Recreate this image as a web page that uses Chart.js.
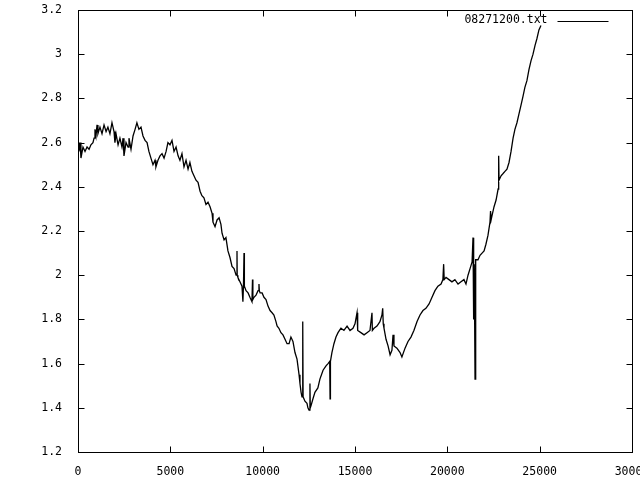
<!DOCTYPE html>
<html>
<head>
<meta charset="utf-8">
<script src="https://cdn.jsdelivr.net/npm/chart.js@4/dist/chart.umd.min.js"></script>
<style>
  html, body { margin: 0; padding: 0; background: #fff; }
  #wrap { width: 640px; height: 480px; }
</style>
</head>
<body>
<div id="wrap"><canvas id="chart" width="640" height="480"></canvas></div>
<script>
const seriesLabel = '08271200.txt';

const xs = [
  0, 50, 110, 160, 270, 380, 490, 600, 700, 810, 870, 920, 975, 1030, 1080,
  1190, 1300, 1410, 1520, 1620, 1730, 1840, 1950, 2000, 2060, 2170, 2270, 2380,
  2440, 2490, 2600, 2710, 2760, 2870, 2980, 3090, 3190, 3300, 3410, 3520, 3630,
  3740, 3840, 3950, 4060, 4170, 4220, 4330, 4440, 4550, 4660, 4770, 4870, 4980,
  5090, 5200, 5310, 5420, 5520, 5630, 5740, 5850, 5960, 6060, 6170, 6280, 6390,
  6500, 6610, 6710, 6820, 6930, 7040, 7150, 7260, 7310, 7420, 7530, 7640, 7740,
  7800, 7910, 8010, 8120, 8230, 8340, 8450, 8560, 8610, 8620, 8660, 8770, 8880,
  8930, 8960, 8990, 9010, 9100, 9210, 9310, 9420, 9450, 9470, 9530, 9640, 9750,
  9800, 9820, 9860, 9970, 10070, 10180, 10290, 10400, 10510, 10610, 10720, 10780,
  10880, 10990, 11100, 11210, 11320, 11430, 11530, 11640, 11750, 11860, 11970,
  12020, 12080, 12130, 12170, 12190, 12290, 12400, 12450, 12510, 12560, 12580,
  12620, 12720, 12830, 12990, 13100, 13270, 13430, 13540, 13630, 13650, 13670,
  13750, 13860, 13970, 14080, 14240, 14400, 14570, 14730, 14890, 15000, 15110,
  15130, 15160, 15320, 15490, 15650, 15810, 15920, 15940, 16030, 16190, 16350,
  16460, 16500, 16530, 16570, 16680, 16790, 16900, 17000, 17060, 17110, 17270,
  17440, 17540, 17710, 17870, 18030, 18190, 18360, 18520, 18680, 18840, 19010,
  19170, 19330, 19490, 19660, 19760, 19800, 19830, 19930, 20090, 20250, 20410,
  20580, 20740, 20900, 21010, 21120, 21230, 21340, 21390, 21410, 21440, 21460,
  21500, 21520, 21550, 21660, 21770, 21880, 21990, 22090, 22200, 22310, 22340,
  22370, 22420, 22530, 22640, 22750, 22780, 22800, 22910, 23020, 23120, 23230,
  23340, 23450, 23560, 23660, 23770, 23880, 23990, 24100, 24200, 24310, 24420,
  24530, 24640, 24750, 24850, 24960, 25070
];

const ys = [
  2.60, 2.56, 2.60, 2.53, 2.58, 2.56, 2.58, 2.57, 2.59, 2.60, 2.62, 2.66, 2.63, 2.68, 2.64,
  2.67, 2.64, 2.68, 2.65, 2.67, 2.64, 2.69, 2.65, 2.60, 2.64, 2.59, 2.62, 2.58,
  2.62, 2.54, 2.60, 2.58, 2.62, 2.57, 2.63, 2.66, 2.69, 2.66, 2.67, 2.63, 2.61,
  2.60, 2.56, 2.53, 2.50, 2.52, 2.49, 2.52, 2.54, 2.55, 2.53, 2.56, 2.60, 2.59,
  2.61, 2.56, 2.58, 2.54, 2.52, 2.55, 2.49, 2.52, 2.48, 2.51, 2.47, 2.45, 2.43,
  2.42, 2.38, 2.36, 2.35, 2.32, 2.33, 2.31, 2.28, 2.24, 2.22, 2.25, 2.26, 2.23,
  2.19, 2.16, 2.17, 2.11, 2.08, 2.04, 2.03, 2.00, 2.11, 2.00, 1.99, 1.97, 1.95,
  1.88, 1.95, 2.10, 1.95, 1.93, 1.92, 1.90, 1.88, 1.98, 1.89, 1.90, 1.91, 1.93,
  1.96, 1.93, 1.92, 1.92, 1.90, 1.89, 1.86, 1.84, 1.83, 1.82, 1.79, 1.77,
  1.76, 1.74, 1.73, 1.71, 1.69, 1.69, 1.72, 1.70, 1.65, 1.62, 1.55,
  1.51, 1.47, 1.45, 1.79, 1.45, 1.43, 1.42, 1.40, 1.39, 1.51, 1.40,
  1.41, 1.44, 1.47, 1.49, 1.53, 1.57, 1.59, 1.60, 1.61, 1.44, 1.61,
  1.65, 1.69, 1.72, 1.74, 1.76, 1.75, 1.77, 1.75, 1.76, 1.78, 1.83,
  1.76, 1.75, 1.74, 1.73, 1.74, 1.75, 1.83, 1.75, 1.76, 1.77, 1.79,
  1.82, 1.85, 1.78, 1.76, 1.71, 1.68, 1.64, 1.66, 1.73, 1.68, 1.67,
  1.65, 1.63, 1.67, 1.70, 1.72, 1.75, 1.79, 1.82, 1.84, 1.85, 1.87,
  1.90, 1.93, 1.95, 1.96, 1.98, 2.05, 1.98, 1.99, 1.98, 1.97, 1.98,
  1.96, 1.97, 1.98, 1.96, 2.00, 2.03, 2.06, 2.17, 2.05, 1.80, 2.05,
  1.53, 2.06, 2.07, 2.07, 2.09, 2.10, 2.11, 2.14, 2.18, 2.24, 2.29,
  2.25, 2.27, 2.31, 2.34, 2.39, 2.54, 2.43, 2.45, 2.46, 2.47, 2.48,
  2.51, 2.56, 2.62, 2.66, 2.69, 2.73, 2.77, 2.81, 2.85, 2.88, 2.93,
  2.97, 3.00, 3.04, 3.07, 3.11, 3.13
];

const xTicks = [0, 5000, 10000, 15000, 20000, 25000, 30000];
const yTicks = [1.2, 1.4, 1.6, 1.8, 2, 2.2, 2.4, 2.6, 2.8, 3, 3.2];

const FONT = '11.5px "DejaVu Sans Mono", monospace';

// gnuplot style frame: border, inward ticks on all four sides, key at top right
const gnuplotFrame = {
  id: 'gnuplotFrame',
  afterDraw(chart) {
    const { ctx, chartArea: a, scales: { x, y } } = chart;
    const L = Math.round(a.left) + 0.5;
    const R = Math.round(a.right) + 0.5;
    const T = Math.round(a.top) + 0.5;
    const B = Math.round(a.bottom) + 0.5;
    const len = 6;
    ctx.save();
    ctx.strokeStyle = '#000';
    ctx.lineWidth = 1;
    ctx.strokeRect(L, T, R - L, B - T);
    ctx.beginPath();
    xTicks.forEach(v => {
      const px = Math.round(x.getPixelForValue(v)) + 0.5;
      ctx.moveTo(px, B); ctx.lineTo(px, B - len);
      ctx.moveTo(px, T); ctx.lineTo(px, T + len);
    });
    yTicks.forEach(v => {
      const py = Math.round(y.getPixelForValue(v)) + 0.5;
      ctx.moveTo(L, py); ctx.lineTo(L + len, py);
      ctx.moveTo(R, py); ctx.lineTo(R - len, py);
    });
    ctx.stroke();

    // key
    const keyY = T + 10;
    ctx.fillStyle = '#000';
    ctx.font = FONT;
    ctx.textAlign = 'right';
    ctx.textBaseline = 'middle';
    ctx.fillText(seriesLabel, R - 85, keyY);
    ctx.beginPath();
    ctx.moveTo(R - 75, Math.round(keyY) + 0.5);
    ctx.lineTo(R - 24, Math.round(keyY) + 0.5);
    ctx.stroke();
    ctx.restore();
  }
};

new Chart(document.getElementById('chart'), {
  type: 'scatter',
  data: {
    datasets: [{
      label: seriesLabel,
      data: xs.map((v, i) => ({ x: v, y: ys[i] })),
      showLine: true,
      borderColor: '#000',
      borderWidth: 1.3,
      pointRadius: 0,
      tension: 0
    }]
  },
  options: {
    responsive: false,
    animation: false,
    layout: { padding: { top: 10, right: 8, left: 0, bottom: 0 } },
    plugins: {
      legend: { display: false },
      tooltip: { enabled: false }
    },
    scales: {
      x: {
        type: 'linear',
        min: 0,
        max: 30000,
        afterBuildTicks: scale => { scale.ticks = xTicks.map(v => ({ value: v })); },
        afterFit: scale => {
          scale.height = 28;
          scale.paddingLeft = 0;
          scale.paddingRight = 0;
        },
        border: { display: false },
        grid: { display: false },
        ticks: {
          color: '#000',
          font: { family: '"DejaVu Sans Mono", monospace', size: 11.5 },
          padding: 5,
          maxRotation: 0,
          autoSkip: false,
          callback: v => String(v)
        }
      },
      y: {
        type: 'linear',
        min: 1.2,
        max: 3.2,
        afterBuildTicks: scale => { scale.ticks = yTicks.map(v => ({ value: v })); },
        afterFit: scale => {
          scale.width = 78;
          scale.paddingTop = 0;
          scale.paddingBottom = 0;
        },
        border: { display: false },
        grid: { display: false },
        ticks: {
          color: '#000',
          font: { family: '"DejaVu Sans Mono", monospace', size: 11.5 },
          padding: 8,
          autoSkip: false,
          callback: v => String(+v.toFixed(1))
        }
      }
    }
  },
  plugins: [gnuplotFrame]
});
</script>
</body>
</html>
